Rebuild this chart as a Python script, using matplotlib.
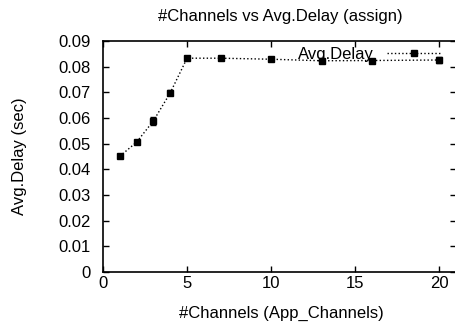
import matplotlib
matplotlib.use("Agg")
import matplotlib.pyplot as plt
from matplotlib.lines import Line2D

channels = [1, 2, 3, 4, 5, 7, 10, 13, 16, 20]
delay = [0.0451, 0.0506, 0.0589, 0.0698, 0.0833, 0.0833, 0.0829, 0.0823, 0.0824, 0.0826]
err = [0.0004, 0.0004, 0.0015, 0.0010, 0.0006, 0.0008, 0.0004, 0.0005, 0.0005, 0.0011]

xticks = [0, 5, 10, 15, 20]
yticks = [0, 0.01, 0.02, 0.03, 0.04, 0.05, 0.06, 0.07, 0.08, 0.09]

plt.rcParams['font.family'] = ['Liberation Sans', 'DejaVu Sans']

W, H = 456, 330
fig = plt.figure(figsize=(W / 100, H / 100), dpi=100)
ax = fig.add_axes([103 / W, 1 - 272 / H, (456 - 103) / W, (272 - 41) / H])

ax.errorbar(channels, delay, yerr=err, color='black', linestyle=':', linewidth=1,
            marker='s', markersize=5, capsize=2, elinewidth=1)

ax.set_xlim(0, 21)
ax.set_ylim(0, 0.09)
ax.set_xticks(xticks)
ax.set_yticks(yticks)
ax.set_yticklabels(['0'] + ['%.2f' % v for v in yticks[1:]])
ax.tick_params(direction='in', length=4, labelsize=12, top=True, right=True, width=1)
ax.tick_params(axis='y', pad=9)
ax.tick_params(axis='x', pad=3)
for s in ax.spines.values():
    s.set_linewidth(1.2)

fig.text(281 / W, 1 - 313 / H, '#Channels (App_Channels)', ha='center', va='center', fontsize=12)
fig.text(20 / W, 1 - 156 / H, 'Avg.Delay (sec)', ha='center', va='center', rotation=90, fontsize=12)
fig.text(280 / W, 1 - 16 / H, '#Channels vs Avg.Delay (assign)', ha='center', va='center', fontsize=12)

handle = Line2D([], [], color='black', linestyle=':', linewidth=1, marker='s', markersize=4.5)
ax.legend([handle], ['Avg.Delay'], loc='upper right', frameon=False, fontsize=12,
          handlelength=3.2, markerfirst=False, borderaxespad=0.0,
          handletextpad=0.8, bbox_to_anchor=(0.975, 1.005))

fig.savefig('out.png', dpi=100)
